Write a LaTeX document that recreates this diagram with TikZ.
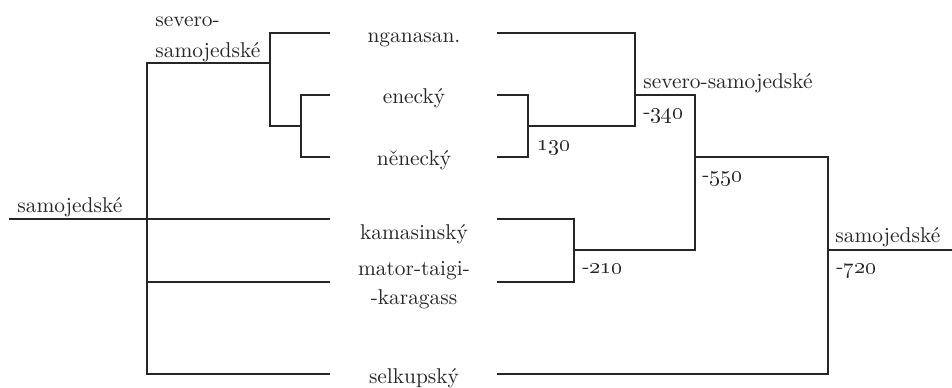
\documentclass[tikz,border=0pt]{standalone}
\begin{document}
\begin{tikzpicture}[x=0.5pt,y=-0.5pt,
  br/.style={draw=black!85,line width=1pt},
  lbl/.style={inner sep=0pt,font=\fontsize{10.7}{13}\selectfont,text=black!85},
  lw/.style={lbl,anchor=base west},
  lc/.style={lbl,anchor=base}]
\useasboundingbox (0,0) rectangle (952,387);
% coordinates of label ends
\coordinate (ngL) at (330,33);  \coordinate (ngR) at (497,33);
\coordinate (enL) at (330,95);  \coordinate (enR) at (497,95);
\coordinate (neL) at (330,157); \coordinate (neR) at (497,157);
\coordinate (kaL) at (330,219); \coordinate (kaR) at (497,219);
\coordinate (maL) at (330,282); \coordinate (maR) at (497,282);
\coordinate (seL) at (330,374); \coordinate (seR) at (497,374);
\coordinate (root) at (9,219);
\coordinate (rootR) at (952,250);
% junctions left
\coordinate (jA) at (147,219);
\coordinate (jB) at (270,63);
\coordinate (jC) at (301,126);
% junctions right
\coordinate (kC) at (528,126);
\coordinate (kB) at (635,95);
\coordinate (kD) at (574,250);
\coordinate (kE) at (695,157);
\coordinate (kF) at (828,250);
% labels
\node[lw] (tsev1) at (155,26) {severo-};
\node[lw] (tsev2) at (155,57) {samojedské};
\node[lw] (troot) at (17,212) {samojedské};
\node[lc] (tng) at (414,42) {nganasan.};
\node[lc] (ten) at (414,103) {enecký};
\node[lc] (tne) at (414,165) {něnecký};
\node[lc] (tka) at (414,239) {kamasinský};
\node[lc] (tma1) at (414,275) {mator-taigi-};
\node[lc] (tma2) at (414,304) {-karagass};
\node[lc] (tse) at (414,383) {selkupský};
\node[lw] (t130) at (537,150) {\oldstylenums{130}};
\node[lw] (tss) at (643,88) {severo-samojedské};
\node[lw] (t340) at (643,118) {-\oldstylenums{340}};
\node[lw] (t550) at (702,181) {-\oldstylenums{550}};
\node[lw] (t210) at (582,273) {-\oldstylenums{210}};
\node[lw] (tsr) at (835,242) {samojedské};
\node[lw] (t720) at (836,273) {-\oldstylenums{720}};
% left tree
\draw[br] (root) -- (jA);
\draw[br] (seL) -| (jA |- jB) -- (jB);
\draw[br] (jA) -- (kaL);
\draw[br] (jA |- maL) -- (maL);
\draw[br] (ngL) -| (jB) |- (jC);
\draw[br] (enL) -| (jC) |- (neL);
% right tree
\draw[br] (ngR) -| (kB) |- (kC);
\draw[br] (enR) -| (kC) |- (neR);
\draw[br] (kB) -| (kD -| kE) -- (kD);
\draw[br] (kaR) -| (kD) |- (maR);
\draw[br] (kE) -| (kF) |- (seR);
\draw[br] (kF) -- (rootR);
\end{tikzpicture}
\end{document}
